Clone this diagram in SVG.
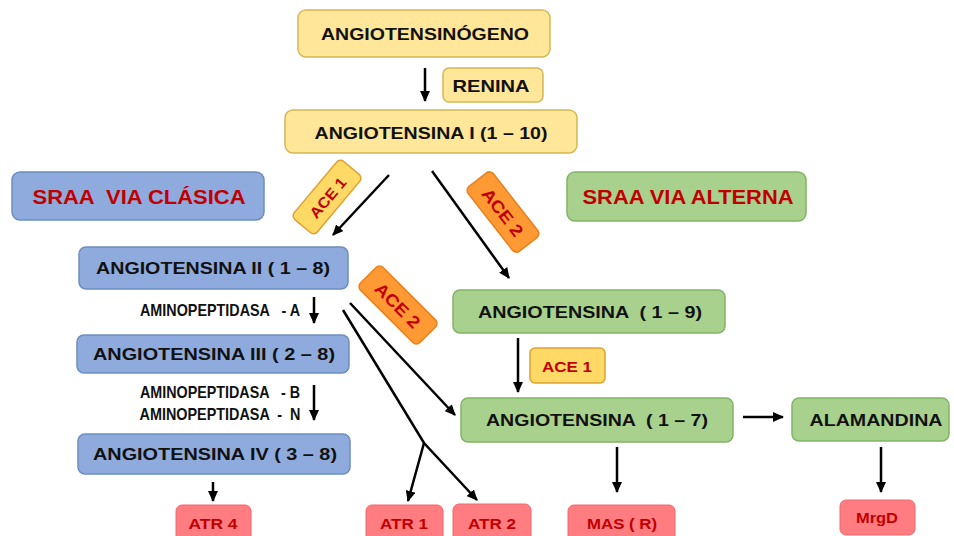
<svg xmlns="http://www.w3.org/2000/svg" width="954" height="536" viewBox="0 0 954 536">
<defs>
<marker id="ah" markerUnits="userSpaceOnUse" markerWidth="11" markerHeight="10" refX="10" refY="5" orient="auto"><path d="M0,0 L11,5 L0,10 z" fill="#000"/></marker>
<style>
text{font-family:"Liberation Sans",Arial,sans-serif;font-weight:bold;text-anchor:middle;dominant-baseline:central;white-space:pre}
.y{fill:#FFE699;stroke:#D6B656;stroke-width:1.5}
.b{fill:#8FAADC;stroke:#6C8EBF;stroke-width:1.5}
.g{fill:#A9D18E;stroke:#82B366;stroke-width:1.5}
.r{fill:#FF7C80;stroke:#F0686C;stroke-width:1}
.a1{fill:#FFD966;stroke:#E0A030;stroke-width:1.5}
.a2{fill:#FF9933;stroke:#E88020;stroke-width:1.5}
.k{fill:#111;font-size:17px}
.red{fill:#C00000}
.c line,.c polyline{stroke:#000;stroke-width:2.5;fill:none}
.m{marker-end:url(#ah)}
</style>
</defs>
<rect width="954" height="536" fill="#fff"/>

<g class="c">
<line class="m" x1="425" y1="68" x2="425" y2="101"/>
<line class="m" x1="389" y1="175" x2="333" y2="235"/>
<line class="m" x1="432" y1="171" x2="509" y2="278"/>
<line class="m" x1="314" y1="297" x2="314" y2="323"/>
<line class="m" x1="314" y1="385" x2="314" y2="420"/>
<line class="m" x1="213" y1="482" x2="213" y2="501"/>
<line class="m" x1="350" y1="303" x2="455" y2="415"/>
<polyline class="m" points="343,310 424,443 477,500"/>
<line class="m" x1="424" y1="443" x2="408" y2="501"/>
<line class="m" x1="518" y1="338" x2="518" y2="392"/>
<line class="m" x1="743" y1="417" x2="783" y2="417"/>
<line class="m" x1="617" y1="447" x2="617" y2="492"/>
<line class="m" x1="881" y1="447" x2="881" y2="492"/>
</g>

<g id="angiotensinogeno"><rect class="y" x="298" y="10" width="252" height="47" rx="8"/><text class="k" x="425" y="34" font-size="18" textLength="208" lengthAdjust="spacingAndGlyphs">ANGIOTENSINÓGENO</text></g>
<g id="renina"><rect class="y" x="443" y="68" width="100" height="34" rx="6"/><text class="k" x="491" y="86" textLength="77" lengthAdjust="spacingAndGlyphs">RENINA</text></g>
<g id="ang1"><rect class="y" x="285" y="110" width="292" height="43" rx="8"/><text class="k" x="431" y="133" textLength="233" lengthAdjust="spacingAndGlyphs">ANGIOTENSINA I (1 – 10)</text></g>

<g id="via-clasica"><rect class="b" x="12" y="172" width="252" height="48" rx="8"/><text class="red" x="139" y="197" font-size="20" textLength="213" lengthAdjust="spacingAndGlyphs">SRAA  VIA CLÁSICA</text></g>
<g id="via-alterna"><rect class="g" x="567" y="172" width="239" height="49" rx="8"/><text class="red" x="688" y="197" font-size="20" textLength="211" lengthAdjust="spacingAndGlyphs">SRAA VIA ALTERNA</text></g>

<g id="ace1-a" transform="translate(327,197) rotate(-50)"><rect class="a1" x="-38" y="-15" width="76" height="30" rx="5"/><text class="red" x="0" y="1" font-size="15" textLength="48" lengthAdjust="spacingAndGlyphs">ACE 1</text></g>
<g id="ace2-a" transform="translate(503,212) rotate(52)"><rect class="a2" x="-41" y="-16" width="82" height="32" rx="5"/><text class="red" x="0" y="1" font-size="17" textLength="56" lengthAdjust="spacingAndGlyphs">ACE 2</text></g>
<g id="ace2-b" transform="translate(398,305) rotate(45)"><rect class="a2" x="-42" y="-16" width="84" height="32" rx="5"/><text class="red" x="0" y="1" font-size="17" textLength="56" lengthAdjust="spacingAndGlyphs">ACE 2</text></g>

<g id="ang2"><rect class="b" x="79" y="247" width="269" height="42" rx="7"/><text class="k" x="213" y="268" textLength="234" lengthAdjust="spacingAndGlyphs">ANGIOTENSINA II ( 1 – 8)</text></g>
<g id="amino-a"><text class="k" x="220" y="310" font-size="11" textLength="160" lengthAdjust="spacingAndGlyphs">AMINOPEPTIDASA   - A</text></g>
<g id="ang3"><rect class="b" x="77" y="335" width="272" height="38" rx="7"/><text class="k" x="214" y="354" textLength="242" lengthAdjust="spacingAndGlyphs">ANGIOTENSINA III ( 2 – 8)</text></g>
<g id="amino-bn"><text class="k" x="220" y="392" font-size="11" textLength="160" lengthAdjust="spacingAndGlyphs">AMINOPEPTIDASA   - B</text><text class="k" x="220" y="414" font-size="11" textLength="161" lengthAdjust="spacingAndGlyphs">AMINOPEPTIDASA  -  N</text></g>
<g id="ang4"><rect class="b" x="78" y="434" width="272" height="40" rx="7"/><text class="k" x="215" y="454" textLength="244" lengthAdjust="spacingAndGlyphs">ANGIOTENSINA IV ( 3 – 8)</text></g>

<g id="ang19"><rect class="g" x="453" y="290" width="272" height="43" rx="7"/><text class="k" x="590" y="312" textLength="224" lengthAdjust="spacingAndGlyphs">ANGIOTENSINA  ( 1 – 9)</text></g>
<g id="ace1-b"><rect class="a1" x="530" y="348" width="75" height="35" rx="5"/><text class="red" x="567" y="366" font-size="15" textLength="50" lengthAdjust="spacingAndGlyphs">ACE 1</text></g>
<g id="ang17"><rect class="g" x="461" y="398" width="272" height="44" rx="7"/><text class="k" x="597" y="420" textLength="222" lengthAdjust="spacingAndGlyphs">ANGIOTENSINA  ( 1 – 7)</text></g>
<g id="alamandina"><rect class="g" x="792" y="398" width="157" height="43" rx="7"/><text class="k" x="876" y="420" textLength="133" lengthAdjust="spacingAndGlyphs">ALAMANDINA</text></g>

<g id="atr4"><rect class="r" x="176" y="505" width="75" height="40" rx="6"/><text class="red" x="213" y="523" font-size="15" textLength="49" lengthAdjust="spacingAndGlyphs">ATR 4</text></g>
<g id="atr1"><rect class="r" x="366" y="505" width="77" height="40" rx="6"/><text class="red" x="404" y="523" font-size="15" textLength="48" lengthAdjust="spacingAndGlyphs">ATR 1</text></g>
<g id="atr2"><rect class="r" x="453" y="504" width="78" height="40" rx="6"/><text class="red" x="492" y="523" font-size="15" textLength="48" lengthAdjust="spacingAndGlyphs">ATR 2</text></g>
<g id="mas"><rect class="r" x="568" y="505" width="107" height="40" rx="6"/><text class="red" x="622" y="523" font-size="15" textLength="70" lengthAdjust="spacingAndGlyphs">MAS ( R)</text></g>
<g id="mrgd"><rect class="r" x="840" y="500" width="75" height="35" rx="6"/><text class="red" x="877" y="518" font-size="14" textLength="42" lengthAdjust="spacingAndGlyphs">MrgD</text></g>
</svg>
